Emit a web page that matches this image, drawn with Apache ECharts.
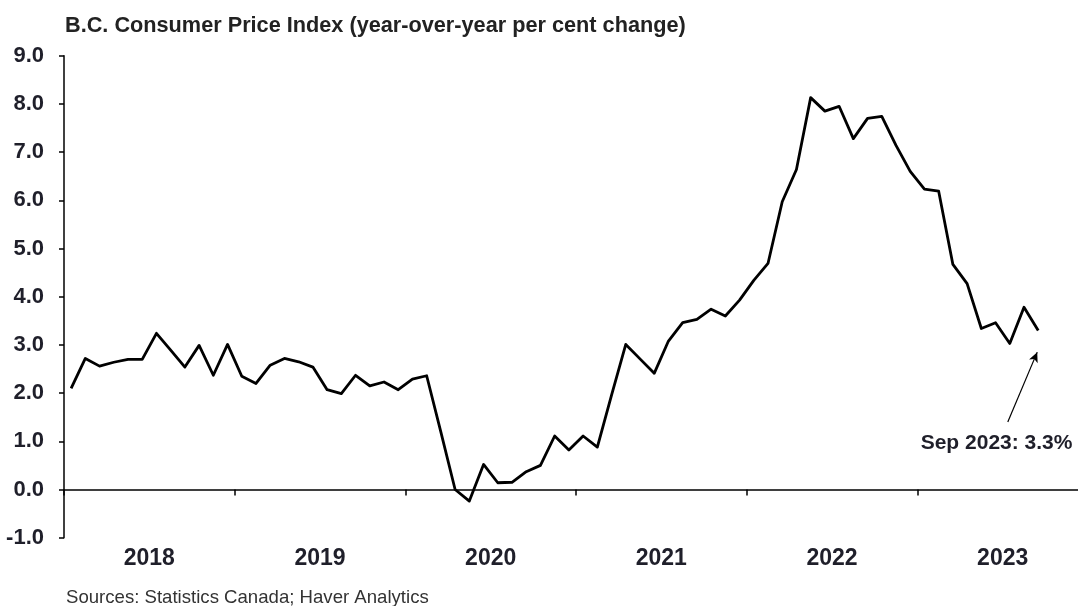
<!DOCTYPE html>
<html>
<head>
<meta charset="utf-8">
<script src="https://cdn.jsdelivr.net/npm/echarts@6/dist/echarts.min.js"></script>
<style>
  html, body { margin: 0; padding: 0; background: #fff; }
  #chart { width: 1078px; height: 606px; }
</style>
</head>
<body>
<div id="chart"></div>
<script>
// B.C. CPI, year-over-year % change, monthly
const yearLabels = ['2018', '2019', '2020', '2021', '2022', '2023'];
const monthNames = ['Jan', 'Feb', 'Mar', 'Apr', 'May', 'Jun', 'Jul', 'Aug', 'Sep', 'Oct', 'Nov', 'Dec'];

const cpi2018 = [2.10, 2.72, 2.56, 2.64, 2.70, 2.70, 3.24, 2.89, 2.54, 2.99, 2.37, 3.01];
const cpi2019 = [2.35, 2.20, 2.58, 2.72, 2.65, 2.54, 2.07, 1.99, 2.37, 2.15, 2.23, 2.07];
const cpi2020 = [2.29, 2.36, 1.19, 0.00, -0.24, 0.52, 0.14, 0.15, 0.37, 0.50, 1.11, 0.82];
const cpi2021 = [1.11, 0.88, 1.96, 3.01, 2.71, 2.41, 3.08, 3.46, 3.53, 3.74, 3.60, 3.93];
const cpi2022 = [4.34, 4.69, 5.97, 6.64, 8.13, 7.85, 7.95, 7.28, 7.70, 7.74, 7.14, 6.60];
const cpi2023 = [6.23, 6.19, 4.67, 4.27, 3.34, 3.46, 3.03, 3.78, 3.3];

const yTicks = { min: -1, max: 9, step: 1 };
const noteText = 'Sep 2023: 3.3%';

// month categories across the full six-year axis
const categories = [];
yearLabels.forEach(y => monthNames.forEach(m => categories.push(m + ' ' + y)));

const values = [].concat(cpi2018, cpi2019, cpi2020, cpi2021, cpi2022, cpi2023);
while (values.length < categories.length) values.push(null);

// annotation anchor points, in months from Jan 2018 on the secondary x axis
const noteLabelAt = [65.57, 0.96];
const arrowFrom = [66.36, 1.40];
const arrowTo = [68.43, 2.85];

const chart = echarts.init(document.getElementById('chart'), null, { renderer: 'canvas' });

const textColor = '#1f1f2a';
const fontFamily = '"Liberation Sans", Arial, sans-serif';

chart.setOption({
  backgroundColor: '#fff',
  animation: false,
  title: {
    text: 'B.C. Consumer Price Index (year-over-year per cent change)',
    left: 60,
    top: 10,
    textStyle: { fontFamily, fontWeight: 'bold', fontSize: 21.7, color: '#222' }
  },
  graphic: [{
    type: 'text',
    left: 66,
    top: 588,
    style: {
      text: 'Sources: Statistics Canada; Haver Analytics',
      fontFamily, fontSize: 18.6, fill: '#333'
    }
  }],
  grid: { left: 64, top: 55.7, width: 1024, height: 482, outerBoundsMode: 'none', containLabel: false },
  xAxis: [{
    type: 'category',
    data: categories,
    boundaryGap: true,
    axisLine: { onZero: true, lineStyle: { color: '#000', width: 1.5 } },
    axisTick: {
      show: true,
      length: 6,
      interval: (i) => i % 12 === 0,
      lineStyle: { color: '#000', width: 1.5 }
    },
    axisLabel: { show: false },
    splitLine: { show: false }
  }, {
    type: 'value',
    position: 'bottom',
    min: 0,
    max: 72,
    interval: 6,
    axisLine: { show: false, onZero: false },
    axisTick: { show: false },
    splitLine: { show: false },
    axisLabel: {
      margin: 9,
      showMinLabel: true,
      showMaxLabel: true,
      fontFamily, fontWeight: 'bold', fontSize: 23, color: textColor,
      formatter: (v) => (v % 12 === 6 ? yearLabels[(v - 6) / 12] : '')
    }
  }],
  yAxis: {
    type: 'value',
    min: yTicks.min,
    max: yTicks.max,
    interval: yTicks.step,
    axisLine: { show: true, onZero: false, lineStyle: { color: '#000', width: 1.5 } },
    axisTick: { show: true, length: 5, lineStyle: { color: '#000', width: 1.5 } },
    splitLine: { show: false },
    axisLabel: {
      margin: 20,
      fontFamily, fontWeight: 'bold', fontSize: 22, color: textColor,
      formatter: (v) => v.toFixed(1)
    }
  },
  series: [{
    type: 'line',
    data: values,
    xAxisIndex: 0,
    symbol: 'none',
    connectNulls: false,
    lineStyle: { color: '#000', width: 2.8, join: 'round' }
  }, {
    type: 'scatter',
    xAxisIndex: 1,
    data: [],
    silent: true,
    markLine: {
      silent: true,
      animation: false,
      symbol: ['none', 'arrow'],
      symbolSize: [7, 10],
      label: { show: false },
      lineStyle: { color: '#000', width: 1.2, type: 'solid' },
      data: [[{ coord: arrowFrom }, { coord: arrowTo }]]
    },
    markPoint: {
      silent: true,
      animation: false,
      symbol: 'circle',
      symbolSize: 1,
      itemStyle: { color: 'rgba(0,0,0,0)' },
      label: {
        show: true,
        position: 'inside',
        formatter: noteText,
        fontFamily, fontWeight: 'bold', fontSize: 21, color: textColor
      },
      data: [{ coord: noteLabelAt }]
    }
  }]
});
</script>
</body>
</html>
